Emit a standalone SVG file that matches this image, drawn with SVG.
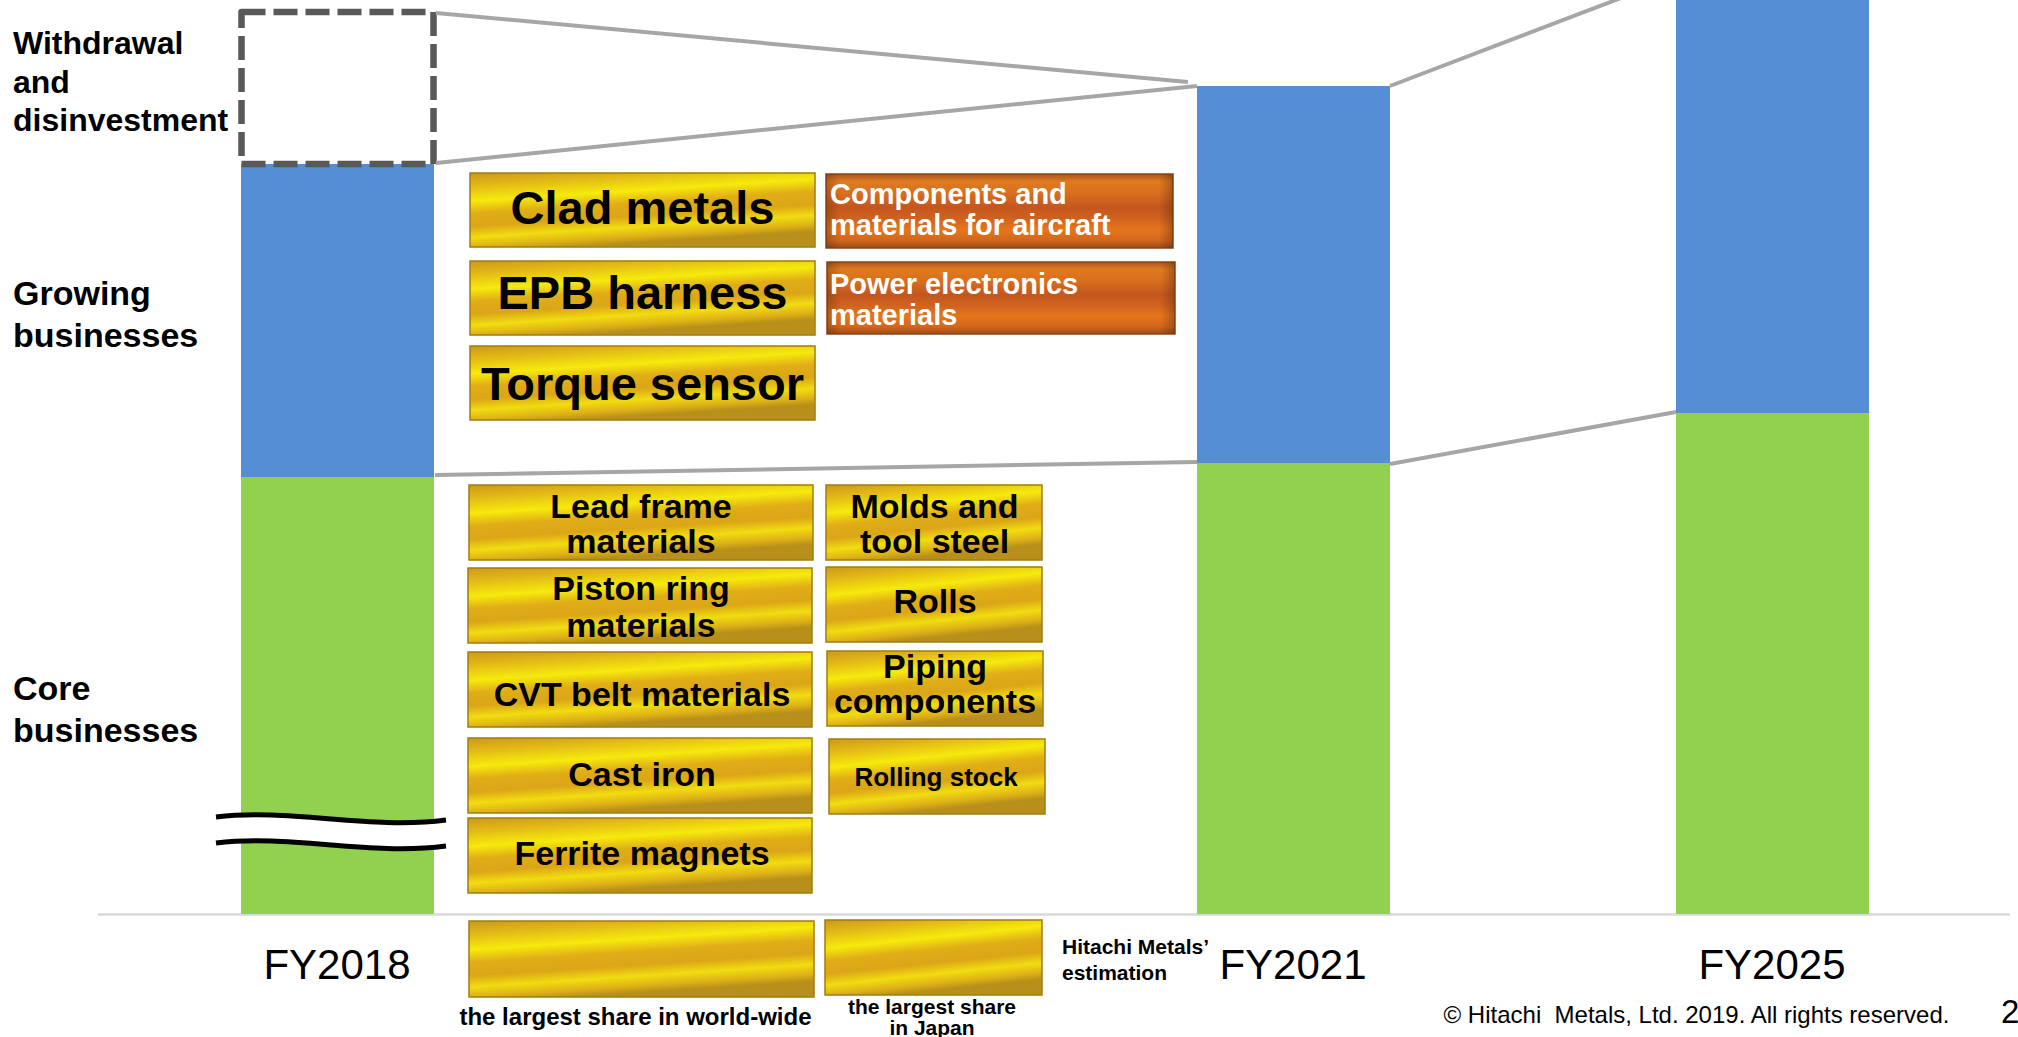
<svg xmlns="http://www.w3.org/2000/svg" width="2018" height="1037" viewBox="0 0 2018 1037">
<defs>
<linearGradient id="gold" x1="0" y1="0" x2="0.3" y2="1">
<stop offset="0" stop-color="#C99A1A"/>
<stop offset="0.15" stop-color="#E2B617"/>
<stop offset="0.35" stop-color="#F6EA0C"/>
<stop offset="0.5" stop-color="#E0AE17"/>
<stop offset="0.66" stop-color="#DBA518"/>
<stop offset="0.8" stop-color="#F1DC10"/>
<stop offset="0.92" stop-color="#DDB017"/>
<stop offset="1" stop-color="#B88F1A"/>
</linearGradient>
<linearGradient id="orange" x1="0" y1="0" x2="0" y2="1">
<stop offset="0" stop-color="#A9561E"/>
<stop offset="0.1" stop-color="#E07A1F"/>
<stop offset="0.25" stop-color="#D9701E"/>
<stop offset="0.45" stop-color="#C4561F"/>
<stop offset="0.6" stop-color="#D0621E"/>
<stop offset="0.75" stop-color="#E5761C"/>
<stop offset="0.9" stop-color="#D2661D"/>
<stop offset="1" stop-color="#9B4C18"/>
</linearGradient>
<linearGradient id="edge" x1="0" y1="0" x2="1" y2="0">
<stop offset="0" stop-color="#5A2A0A" stop-opacity="0.35"/>
<stop offset="0.04" stop-color="#5A2A0A" stop-opacity="0"/>
<stop offset="0.96" stop-color="#5A2A0A" stop-opacity="0"/>
<stop offset="1" stop-color="#5A2A0A" stop-opacity="0.4"/>
</linearGradient>
</defs>
<style>
text { font-family: "Liberation Sans", Arial, sans-serif; }
.lbl { font-weight: bold; fill: #000; }
.big { font-size: 47px; font-weight: bold; text-anchor: middle; fill: #000; }
.mid { font-size: 34px; font-weight: bold; text-anchor: middle; fill: #000; }
.sml { font-size: 26px; font-weight: bold; text-anchor: middle; fill: #000; }
.wht { font-size: 29px; font-weight: bold; fill: #FFFFFF; }
.gold { fill: url(#gold); stroke: #A07C12; stroke-width: 1.5; }
.orng { fill: url(#orange); stroke: #8A4416; stroke-width: 1.5; }
.edge { fill: url(#edge); }
.blue { fill: #558ED5; }
.green { fill: #92D050; }
.conn { stroke: #A6A6A6; stroke-width: 4; fill: none; }
.fy { font-size: 42px; text-anchor: middle; fill: #000; }
.note { font-size: 21px; font-weight: bold; fill: #000; }
.copy { font-size: 24px; fill: #000; white-space: pre; }
</style>

<!-- axis -->
<line x1="98" y1="914.5" x2="2010" y2="914.5" stroke="#D9D9D9" stroke-width="2.5"/>

<!-- bars -->
<g id="bar-fy2018">
<rect class="blue" x="241" y="164" width="193" height="313"/>
<rect class="green" x="241" y="477" width="193" height="437"/>
<rect x="241.5" y="12" width="192" height="152" fill="none" stroke="#595959" stroke-width="6.5" stroke-dasharray="24 8" stroke-linejoin="round"/>
</g>
<g id="bar-fy2021">
<rect class="blue" x="1197" y="86" width="193" height="377"/>
<rect class="green" x="1197" y="463" width="193" height="451"/>
</g>
<g id="bar-fy2025">
<rect class="blue" x="1676" y="0" width="193" height="413"/>
<rect class="green" x="1676" y="413" width="193" height="501"/>
</g>

<!-- break mark -->
<g id="break-mark">
<path d="M216,817 C290,808 370,830 446,820 L446,846 C370,856 290,834 216,843 Z" fill="#FFFFFF"/>
<path d="M216,817 C290,808 370,830 446,820" fill="none" stroke="#000" stroke-width="5"/>
<path d="M216,843 C290,834 370,856 446,846" fill="none" stroke="#000" stroke-width="5"/>
</g>

<!-- connectors -->
<g id="connectors">
<line class="conn" x1="436" y1="13" x2="1188" y2="82"/>
<line class="conn" x1="436" y1="163" x2="1197" y2="86"/>
<line class="conn" x1="435" y1="475" x2="1197" y2="462"/>
<line class="conn" x1="1390" y1="86" x2="1676" y2="-23"/>
<line class="conn" x1="1390" y1="464" x2="1676" y2="412"/>
</g>

<!-- left labels -->
<g id="label-withdrawal">
<text class="lbl" font-size="32" x="13" y="54">Withdrawal</text>
<text class="lbl" font-size="32" x="13" y="93">and</text>
<text class="lbl" font-size="32" x="13" y="131">disinvestment</text>
</g>
<g id="label-growing">
<text class="lbl" font-size="34" x="13" y="305">Growing</text>
<text class="lbl" font-size="34" x="13" y="347">businesses</text>
</g>
<g id="label-core">
<text class="lbl" font-size="34" x="13" y="700">Core</text>
<text class="lbl" font-size="34" x="13" y="742">businesses</text>
</g>

<!-- growing business boxes -->
<g id="node-clad-metals">
<rect class="gold" x="470" y="173" width="345" height="74"/>
<text class="big" x="642.5" y="224">Clad metals</text>
</g>
<g id="node-epb-harness">
<rect class="gold" x="470" y="261" width="345" height="74"/>
<text class="big" x="642.5" y="309">EPB harness</text>
</g>
<g id="node-torque-sensor">
<rect class="gold" x="470" y="346" width="345" height="74"/>
<text class="big" x="642.5" y="400">Torque sensor</text>
</g>
<g id="node-aircraft">
<rect class="orng" x="826" y="174" width="347" height="74"/>
<rect class="edge" x="826" y="174" width="347" height="74"/>
<text class="wht" x="830" y="204">Components and</text>
<text class="wht" x="830" y="235">materials for aircraft</text>
</g>
<g id="node-power-electronics">
<rect class="orng" x="827" y="262" width="348" height="72"/>
<rect class="edge" x="827" y="262" width="348" height="72"/>
<text class="wht" x="830" y="294">Power electronics</text>
<text class="wht" x="830" y="325">materials</text>
</g>

<!-- core business boxes -->
<g id="node-lead-frame">
<rect class="gold" x="469" y="485" width="344" height="75"/>
<text class="mid" x="641" y="518">Lead frame</text>
<text class="mid" x="641" y="553">materials</text>
</g>
<g id="node-molds">
<rect class="gold" x="826" y="485" width="216" height="75"/>
<text class="mid" x="934.5" y="518">Molds and</text>
<text class="mid" x="934.5" y="553">tool steel</text>
</g>
<g id="node-piston-ring">
<rect class="gold" x="468" y="568" width="344" height="75"/>
<text class="mid" x="641" y="600">Piston ring</text>
<text class="mid" x="641" y="637">materials</text>
</g>
<g id="node-rolls">
<rect class="gold" x="826" y="567" width="216" height="75"/>
<text class="mid" x="935" y="613">Rolls</text>
</g>
<g id="node-cvt">
<rect class="gold" x="468" y="652" width="344" height="75"/>
<text class="mid" x="642" y="706">CVT belt materials</text>
</g>
<g id="node-piping">
<rect class="gold" x="827" y="651" width="216" height="75"/>
<text class="mid" x="935" y="678">Piping</text>
<text class="mid" x="935" y="713">components</text>
</g>
<g id="node-cast-iron">
<rect class="gold" x="468" y="738" width="344" height="75"/>
<text class="mid" x="642" y="786">Cast iron</text>
</g>
<g id="node-rolling-stock">
<rect class="gold" x="829" y="739" width="216" height="75"/>
<text class="sml" x="936" y="786">Rolling stock</text>
</g>
<g id="node-ferrite">
<rect class="gold" x="468" y="818" width="344" height="75"/>
<text class="mid" x="642" y="865">Ferrite magnets</text>
</g>

<!-- axis labels -->
<g id="axis-labels">
<text class="fy" x="337" y="979">FY2018</text>
<text class="fy" x="1293" y="979">FY2021</text>
<text class="fy" x="1772" y="979">FY2025</text>
</g>

<!-- legend -->
<g id="legend-world">
<rect class="gold" x="469" y="921" width="345" height="76"/>
<text class="lbl" font-size="24" x="635.5" y="1025" text-anchor="middle">the largest share in world-wide</text>
</g>
<g id="legend-japan">
<rect class="gold" x="825" y="920" width="217" height="75"/>
<text class="note" x="932" y="1014" text-anchor="middle">the largest share</text>
<text class="note" x="932" y="1035" text-anchor="middle">in Japan</text>
</g>
<g id="legend-note">
<text class="note" x="1062" y="954">Hitachi Metals’</text>
<text class="note" x="1062" y="980">estimation</text>
</g>

<!-- footer -->
<g id="footer">
<text class="copy" x="1443.5" y="1023">© Hitachi  Metals, Ltd. 2019. All rights reserved.</text>
<text x="2001" y="1023" font-size="33" fill="#000">2</text>
</g>
</svg>
